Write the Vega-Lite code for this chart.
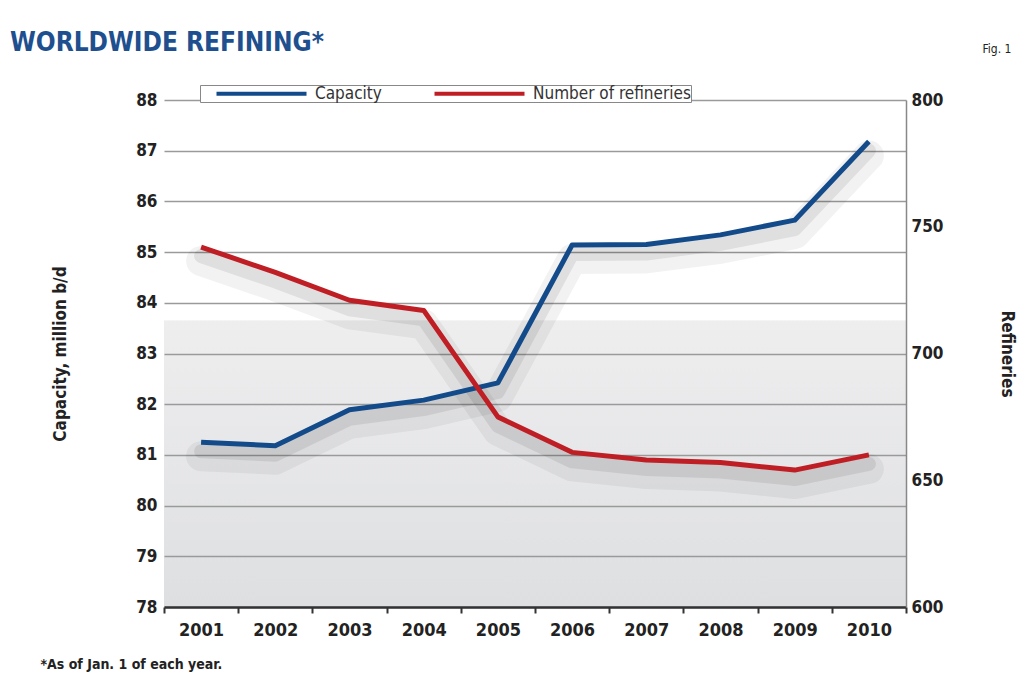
{
  "$schema": "https://vega.github.io/schema/vega-lite/v6.json",
  "width": 742,
  "height": 507,
  "autosize": {"type": "none"},
  "padding": {"left": 164, "top": 100, "right": 112, "bottom": 69},
  "background": "white",
  "config": {
    "font": "DejaVu Sans Condensed",
    "view": {
      "stroke": null,
      "fill": {
        "gradient": "linear", "x1": 0, "y1": 0, "x2": 0, "y2": 1,
        "stops": [
          {"offset": 0, "color": "#ffffff"},
          {"offset": 0.433, "color": "#ffffff"},
          {"offset": 0.436, "color": "#eeeeef"},
          {"offset": 1, "color": "#dedfe1"}
        ]
      }
    },
    "axis": {
      "labelFont": "DejaVu Sans Condensed",
      "titleFont": "DejaVu Sans Condensed",
      "labelColor": "#222222",
      "titleColor": "#222222"
    },
    "legend": {
      "labelFont": "DejaVu Sans Condensed"
    }
  },
  "title": {
    "text": "WORLDWIDE REFINING*",
    "anchor": "start",
    "frame": "group",
    "dx": -154,
    "dy": 34,
    "offset": 20,
    "fontSize": 26,
    "font": "DejaVu Sans Condensed",
    "fontWeight": "bold",
    "color": "#1e4f8e"
  },
  "data": {
    "values": [
      {"year": "2001", "capacity": 81.25, "refineries": 742},
      {"year": "2002", "capacity": 81.18, "refineries": 732},
      {"year": "2003", "capacity": 81.89, "refineries": 721},
      {"year": "2004", "capacity": 82.08, "refineries": 717},
      {"year": "2005", "capacity": 82.42, "refineries": 675},
      {"year": "2006", "capacity": 85.14, "refineries": 661},
      {"year": "2007", "capacity": 85.15, "refineries": 658},
      {"year": "2008", "capacity": 85.34, "refineries": 657},
      {"year": "2009", "capacity": 85.63, "refineries": 654},
      {"year": "2010", "capacity": 87.18, "refineries": 660}
    ]
  },
  "layer": [
    {
      "mark": {"type": "line", "stroke": "#000000", "strokeWidth": 30, "opacity": 0.05, "yOffset": 14, "strokeCap": "round", "strokeJoin": "round"},
      "encoding": {
        "x": {"field": "year", "type": "ordinal", "bandPosition": 0.5, "scale": {"type": "band", "paddingInner": 0, "paddingOuter": 0}, "axis": null},
        "y": {"field": "capacity", "type": "quantitative", "scale": {"domain": [78, 88], "nice": false, "zero": false}, "axis": null}
      }
    },
    {
      "mark": {"type": "line", "stroke": "#000000", "strokeWidth": 14, "opacity": 0.08, "yOffset": 9, "strokeCap": "round", "strokeJoin": "round"},
      "encoding": {
        "x": {"field": "year", "type": "ordinal", "bandPosition": 0.5, "scale": {"type": "band", "paddingInner": 0, "paddingOuter": 0}, "axis": null},
        "y": {"field": "capacity", "type": "quantitative", "scale": {"domain": [78, 88], "nice": false, "zero": false}, "axis": null}
      }
    },
    {
      "mark": {"type": "line", "stroke": "#000000", "strokeWidth": 30, "opacity": 0.05, "yOffset": 14, "strokeCap": "round", "strokeJoin": "round"},
      "encoding": {
        "x": {"field": "year", "type": "ordinal", "bandPosition": 0.5, "scale": {"type": "band", "paddingInner": 0, "paddingOuter": 0}, "axis": null},
        "y": {"field": "refineries", "type": "quantitative", "scale": {"domain": [600, 800], "nice": false, "zero": false}, "axis": null}
      }
    },
    {
      "mark": {"type": "line", "stroke": "#000000", "strokeWidth": 14, "opacity": 0.08, "yOffset": 9, "strokeCap": "round", "strokeJoin": "round"},
      "encoding": {
        "x": {"field": "year", "type": "ordinal", "bandPosition": 0.5, "scale": {"type": "band", "paddingInner": 0, "paddingOuter": 0}, "axis": null},
        "y": {"field": "refineries", "type": "quantitative", "scale": {"domain": [600, 800], "nice": false, "zero": false}, "axis": null}
      }
    },
    {
      "mark": {"type": "line", "strokeWidth": 5, "strokeJoin": "round"},
      "encoding": {
        "x": {
          "field": "year", "type": "ordinal", "bandPosition": 0.5,
          "scale": {"type": "band", "paddingInner": 0, "paddingOuter": 0},
          "axis": {
            "orient": "bottom",
            "labelAngle": 0,
            "tickBand": "extent",
            "domainColor": "#333333",
            "domainWidth": 2.5,
            "tickColor": "#333333",
            "tickWidth": 2,
            "tickSize": 6,
            "labelFontSize": 18,
            "labelFontWeight": "bold",
            "labelPadding": 8,
            "grid": false,
            "title": "*As of Jan. 1 of each year.",
            "titleFontSize": 14,
            "titleFontWeight": "bold",
            "titleX": -124,
            "titleY": 61,
            "titleAlign": "left",
            "titleBaseline": "alphabetic",
            "titleAnchor": "start"
          }
        },
        "y": {
          "field": "capacity", "type": "quantitative",
          "scale": {"domain": [78, 88], "nice": false, "zero": false},
          "axis": {
            "orient": "left",
            "values": [78, 79, 80, 81, 82, 83, 84, 85, 86, 87, 88],
            "grid": true,
            "gridColor": "#9a9a9a",
            "gridWidth": 1.5,
            "domain": false,
            "ticks": false,
            "labelPadding": 7,
            "labelFontSize": 17,
            "labelFontWeight": "bold",
            "title": "Capacity, million b/d",
            "titleFontSize": 17,
            "titleFontWeight": "bold",
            "titlePadding": 66
          }
        },
        "color": {
          "datum": "Capacity",
          "type": "nominal",
          "scale": {"domain": ["Capacity", "Number of refineries"], "range": ["#134a8a", "#bf1e24"]},
          "legend": {
            "title": null,
            "orient": "none",
            "legendX": 36,
            "legendY": -15,
            "direction": "horizontal",
            "symbolType": "M1.6,0H19.6",
            "symbolSize": 100,
            "symbolStrokeWidth": 4,
            "labelFontSize": 17,
            "labelColor": "#333333",
            "labelOffset": 98,
            "columnPadding": 36,
            "padding": 0,
            "strokeColor": "#888888",
            "fillColor": "#ffffff"
          }
        }
      }
    },
    {
      "mark": {"type": "line", "strokeWidth": 5, "strokeJoin": "round"},
      "encoding": {
        "x": {
          "field": "year", "type": "ordinal", "bandPosition": 0.5,
          "scale": {"type": "band", "paddingInner": 0, "paddingOuter": 0},
          "axis": {
            "orient": "top",
            "labels": false,
            "ticks": false,
            "domain": false,
            "grid": false,
            "title": "Fig. 1",
            "titleFontSize": 12,
            "titleFontWeight": "normal",
            "titleX": 818,
            "titleY": -48,
            "titleAlign": "left",
            "titleBaseline": "alphabetic",
            "titleAnchor": "start"
          }
        },
        "y": {
          "field": "refineries", "type": "quantitative",
          "scale": {"domain": [600, 800], "nice": false, "zero": false},
          "axis": {
            "orient": "right",
            "values": [600, 650, 700, 750, 800],
            "grid": false,
            "domainColor": "#888888",
            "domainWidth": 1.5,
            "ticks": false,
            "labelPadding": 5,
            "labelFontSize": 17,
            "labelFontWeight": "bold",
            "title": "Refineries",
            "titleFontSize": 17,
            "titleFontWeight": "bold",
            "titlePadding": 55
          }
        },
        "color": {"datum": "Number of refineries", "type": "nominal"}
      }
    }
  ],
  "resolve": {"scale": {"y": "independent"}, "axis": {"x": "independent", "y": "independent"}}
}
